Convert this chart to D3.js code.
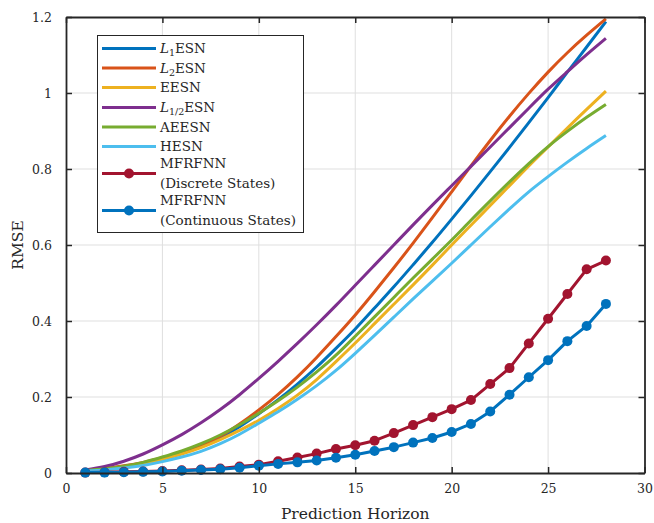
<!DOCTYPE html>
<html>
<head>
<meta charset="utf-8">
<script src="https://cdn.jsdelivr.net/npm/d3@7"></script>
<style>
  body { margin: 0; background: #fff; }
  svg { display: block; font-family: "DejaVu Serif", "Liberation Serif", serif; }
</style>
</head>
<body>
<div id="chart"></div>
<script>
// prediction horizon steps
var horizon = [1, 2, 3, 4, 5, 6, 7, 8, 9, 10, 11, 12, 13, 14, 15, 16, 17, 18, 19, 20, 21, 22, 23, 24, 25, 26, 27, 28];

// RMSE per model
var l1esn = [0.006, 0.010, 0.016, 0.025, 0.038, 0.052, 0.070, 0.093, 0.122, 0.156, 0.193, 0.234, 0.279, 0.328, 0.379, 0.434, 0.490, 0.548, 0.607, 0.668, 0.730, 0.793, 0.857, 0.922, 0.988, 1.055, 1.121, 1.188];
var l2esn = [0.007, 0.012, 0.019, 0.028, 0.040, 0.055, 0.074, 0.097, 0.129, 0.166, 0.207, 0.253, 0.304, 0.359, 0.416, 0.477, 0.540, 0.605, 0.672, 0.740, 0.808, 0.875, 0.939, 0.999, 1.055, 1.106, 1.152, 1.195];
var eesn = [0.005, 0.009, 0.015, 0.024, 0.036, 0.050, 0.067, 0.088, 0.112, 0.139, 0.170, 0.205, 0.246, 0.293, 0.342, 0.393, 0.444, 0.495, 0.547, 0.600, 0.652, 0.704, 0.756, 0.808, 0.858, 0.908, 0.957, 1.005];
var lhalfesn = [0.008, 0.017, 0.031, 0.050, 0.074, 0.101, 0.132, 0.167, 0.206, 0.249, 0.294, 0.341, 0.390, 0.441, 0.494, 0.547, 0.600, 0.653, 0.705, 0.756, 0.807, 0.858, 0.909, 0.960, 1.010, 1.056, 1.101, 1.144];
var aeesn = [0.006, 0.011, 0.018, 0.028, 0.042, 0.058, 0.077, 0.100, 0.127, 0.157, 0.190, 0.226, 0.266, 0.310, 0.360, 0.411, 0.462, 0.513, 0.563, 0.613, 0.665, 0.716, 0.766, 0.814, 0.859, 0.899, 0.936, 0.970];
var hesn = [0.005, 0.008, 0.013, 0.020, 0.030, 0.042, 0.057, 0.077, 0.102, 0.131, 0.161, 0.194, 0.230, 0.270, 0.315, 0.362, 0.410, 0.458, 0.505, 0.552, 0.600, 0.648, 0.695, 0.740, 0.780, 0.818, 0.854, 0.888];
var mfrfnnDiscrete = [0.001, 0.002, 0.003, 0.004, 0.005, 0.007, 0.009, 0.012, 0.017, 0.022, 0.031, 0.041, 0.051, 0.063, 0.073, 0.085, 0.105, 0.126, 0.147, 0.168, 0.192, 0.234, 0.276, 0.341, 0.406, 0.471, 0.536, 0.559];
var mfrfnnContinuous = [0.001, 0.001, 0.002, 0.003, 0.004, 0.006, 0.008, 0.010, 0.014, 0.019, 0.024, 0.028, 0.033, 0.040, 0.048, 0.058, 0.068, 0.080, 0.092, 0.108, 0.129, 0.162, 0.206, 0.252, 0.297, 0.347, 0.387, 0.445];

var xTicks = [0, 5, 10, 15, 20, 25, 30];
var yTicks = [0, 0.2, 0.4, 0.6, 0.8, 1, 1.2];

var series = [
  { name: "L1ESN", label: ["L", "1", "ESN"], values: l1esn, color: "#0072BD", marker: false },
  { name: "L2ESN", label: ["L", "2", "ESN"], values: l2esn, color: "#D95319", marker: false },
  { name: "EESN", label: ["EESN"], values: eesn, color: "#EDB120", marker: false },
  { name: "L1/2ESN", label: ["L", "1/2", "ESN"], values: lhalfesn, color: "#7E2F8E", marker: false },
  { name: "AEESN", label: ["AEESN"], values: aeesn, color: "#77AC30", marker: false },
  { name: "HESN", label: ["HESN"], values: hesn, color: "#4DBEEE", marker: false },
  { name: "MFRFNN D", label: ["MFRFNN", "(Discrete States)"], values: mfrfnnDiscrete, color: "#A2142F", marker: true },
  { name: "MFRFNN C", label: ["MFRFNN", "(Continuous States)"], values: mfrfnnContinuous, color: "#0072BD", marker: true }
];

var width = 654, height = 523;
var plotL = 66, plotT = 17, plotR = 644.5, plotB = 473;
var ink = "#262626";

var x = d3.scaleLinear().domain([0, 30]).range([plotL, plotR]);
var y = d3.scaleLinear().domain([0, 1.2]).range([plotB, plotT]);

var svg = d3.select("#chart").append("svg")
  .attr("width", width)
  .attr("height", height);

// grid
svg.append("g").selectAll("line").data(xTicks.slice(1, -1)).enter().append("line")
  .attr("x1", function (d) { return x(d); }).attr("x2", function (d) { return x(d); })
  .attr("y1", plotT).attr("y2", plotB)
  .attr("stroke", "#dfdfdf").attr("stroke-width", 1);
svg.append("g").selectAll("line").data(yTicks.slice(1, -1)).enter().append("line")
  .attr("y1", function (d) { return y(d); }).attr("y2", function (d) { return y(d); })
  .attr("x1", plotL).attr("x2", plotR)
  .attr("stroke", "#dfdfdf").attr("stroke-width", 1);

// curves
var line = d3.line()
  .x(function (d) { return x(d[0]); })
  .y(function (d) { return y(d[1]); })
  .curve(d3.curveNatural);

var lineStraight = d3.line()
  .x(function (d) { return x(d[0]); })
  .y(function (d) { return y(d[1]); });

series.forEach(function (s) {
  var pts = horizon.map(function (h, i) { return [h, s.values[i]]; });
  svg.append("path")
    .attr("d", s.marker ? lineStraight(pts) : line(pts))
    .attr("fill", "none")
    .attr("stroke", s.color)
    .attr("stroke-width", 3)
    .attr("stroke-linejoin", "round");
  if (s.marker) {
    svg.append("g").selectAll("circle").data(pts).enter().append("circle")
      .attr("cx", function (d) { return x(d[0]); })
      .attr("cy", function (d) { return y(d[1]); })
      .attr("r", 5)
      .attr("fill", s.color);
  }
});

// axes (box with inward ticks on all sides)
var tickLen = 6;
var xAxisB = d3.axisBottom(x).tickValues(xTicks).tickSizeInner(-tickLen).tickSizeOuter(0).tickPadding(11).tickFormat(d3.format("d"));
var xAxisT = d3.axisTop(x).tickValues(xTicks).tickSizeInner(-tickLen).tickSizeOuter(0).tickFormat("");
var yAxisL = d3.axisLeft(y).tickValues(yTicks).tickSizeInner(-tickLen).tickSizeOuter(0).tickPadding(14).tickFormat(function (d) { return d3.format("~g")(d); });
var yAxisR = d3.axisRight(y).tickValues(yTicks).tickSizeInner(-tickLen).tickSizeOuter(0).tickFormat("");

function styleAxis(g) {
  g.select(".domain").attr("stroke", ink).attr("stroke-width", 1.8);
  g.selectAll(".tick line").attr("stroke", ink).attr("stroke-width", 1.5);
  g.selectAll(".tick text").attr("fill", ink).attr("font-size", 12.5)
    .attr("font-family", "DejaVu Serif, serif");
}

svg.append("g").attr("transform", "translate(0," + plotB + ")").call(xAxisB).call(styleAxis);
svg.append("g").attr("transform", "translate(0," + plotT + ")").call(xAxisT).call(styleAxis);
svg.append("g").attr("transform", "translate(" + plotL + ",0)").call(yAxisL).call(styleAxis);
svg.append("g").attr("transform", "translate(" + plotR + ",0)").call(yAxisR).call(styleAxis);

// axis labels
svg.append("text")
  .attr("x", (plotL + plotR) / 2).attr("y", 519)
  .attr("text-anchor", "middle")
  .attr("font-size", 15.5).attr("fill", ink)
  .text("Prediction Horizon");

svg.append("text")
  .attr("transform", "translate(23," + (plotT + plotB) / 2 + ") rotate(-90)")
  .attr("text-anchor", "middle")
  .attr("font-size", 15.5).attr("fill", ink)
  .text("RMSE");

// legend
var legend = svg.append("g");
legend.append("rect")
  .attr("x", 97.5).attr("y", 35.5).attr("width", 206).attr("height", 197)
  .attr("fill", "#fff").attr("stroke", ink).attr("stroke-width", 1);

var rowY = [48.5, 68, 87.5, 107.5, 127, 146.5, 173.5, 210.5];
var lineX1 = 102, lineX2 = 156, textX = 160;

series.forEach(function (s, i) {
  var ry = rowY[i];
  legend.append("line")
    .attr("x1", lineX1).attr("x2", lineX2).attr("y1", ry).attr("y2", ry)
    .attr("stroke", s.color).attr("stroke-width", 3);
  if (s.marker) {
    legend.append("circle").attr("cx", (lineX1 + lineX2) / 2).attr("cy", ry).attr("r", 5).attr("fill", s.color);
    legend.append("text").attr("x", textX).attr("y", ry - 10).attr("dy", "0.35em")
      .attr("font-size", 13.5).attr("fill", ink).text(s.label[0]);
    legend.append("text").attr("x", textX).attr("y", ry + 9.5).attr("dy", "0.35em")
      .attr("font-size", 13.5).attr("fill", ink).text(s.label[1]);
  } else if (s.label.length === 3) {
    var t = legend.append("text").attr("x", textX).attr("y", ry + 4.7)
      .attr("font-size", 13.5).attr("fill", ink);
    t.append("tspan").attr("font-style", "italic").text(s.label[0]);
    t.append("tspan").attr("font-size", 9.5).attr("dy", 3).text(s.label[1]);
    t.append("tspan").attr("dy", -3).text(s.label[2]);
  } else {
    legend.append("text").attr("x", textX).attr("y", ry).attr("dy", "0.35em")
      .attr("font-size", 13.5).attr("fill", ink).text(s.label[0]);
  }
});
</script>
</body>
</html>
